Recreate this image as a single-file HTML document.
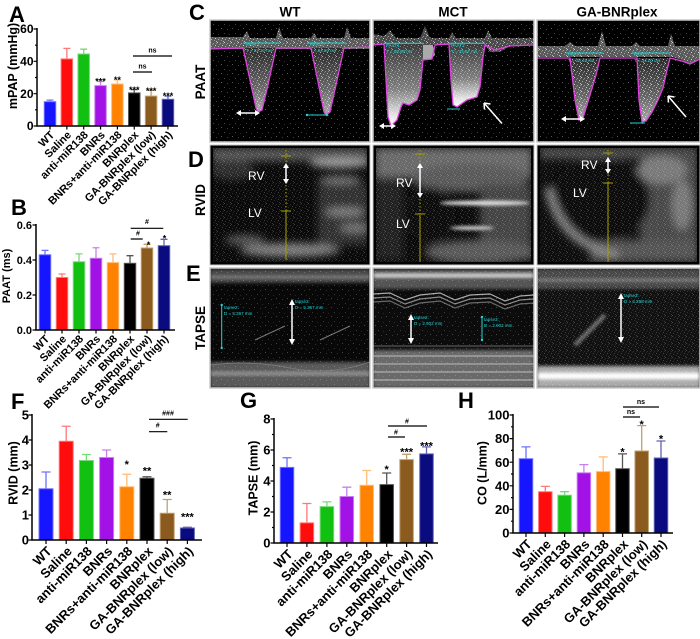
<!DOCTYPE html>
<html><head><meta charset="utf-8">
<style>
html,body{margin:0;padding:0;background:#fff;width:700px;height:639px;overflow:hidden}
svg{display:block}
text{font-family:"Liberation Sans",Arial,sans-serif;font-weight:bold;fill:#000}
.ax{stroke:#000;stroke-width:1.5;fill:none}
.tk{stroke:#000;stroke-width:1.2;fill:none}
.b0{fill:#1515ff;stroke:#7070ff}
.b1{fill:#ff0d0d;stroke:#ff7878}
.b2{fill:#12c012;stroke:#78d878}
.b3{fill:#a212e6;stroke:#c880f0}
.b4{fill:#ff8200;stroke:#ffbb78}
.b5{fill:#000;stroke:#555}
.b6{fill:#8a5a1f;stroke:#c0a070}
.b7{fill:#0b0b80;stroke:#6262b2}
.eb{fill:none;stroke-width:1.3}
.e0{stroke:#7070ff}.e1{stroke:#ff7878}.e2{stroke:#78d878}.e3{stroke:#c880f0}
.e4{stroke:#ffbb78}.e5{stroke:#555}.e6{stroke:#c0a070}.e7{stroke:#6262b2}
.sg{stroke:#000;stroke-width:1.2}
.cy{stroke:#22d4d4;stroke-width:1;fill:none}
.ct{fill:#22d4d4;font-size:4.5px;font-weight:normal}
.mg{stroke:#e040e0;stroke-width:1.3;fill:none}
.wl{stroke:#fff;stroke-width:1.5;fill:none}
.us{fill:#fff;font-weight:normal;font-size:12px}
.yl{stroke:#a89c00;stroke-width:1;fill:none}
</style></head>
<body>
<svg width="700" height="639" viewBox="0 0 700 639" xmlns="http://www.w3.org/2000/svg">
<defs>
<pattern id="sp" width="7" height="7" patternUnits="userSpaceOnUse">
<rect x="0" y="0" width="1" height="1" fill="#fff"/>
<rect x="3" y="1" width="1" height="1" fill="#fff" opacity=".6"/>
<rect x="5" y="3" width="1" height="1" fill="#fff"/>
<rect x="1" y="4" width="1" height="1" fill="#fff" opacity=".7"/>
<rect x="4" y="5" width="1" height="1" fill="#fff" opacity=".5"/>
<rect x="6" y="6" width="1" height="1" fill="#fff" opacity=".8"/>
<rect x="2" y="2" width="1" height="1" fill="#fff" opacity=".4"/>
<rect x="6" y="1" width="1" height="1" fill="#fff" opacity=".5"/>
</pattern>
<pattern id="sq" width="11" height="9" patternUnits="userSpaceOnUse">
<rect x="1" y="1" width="1" height="1" fill="#fff"/>
<rect x="7" y="2" width="1" height="1" fill="#fff" opacity=".7"/>
<rect x="4" y="6" width="1" height="1" fill="#fff" opacity=".8"/>
<rect x="9" y="7" width="1" height="1" fill="#fff" opacity=".5"/>
</pattern>
<filter id="bl4" x="-30%" y="-30%" width="160%" height="160%"><feGaussianBlur stdDeviation="4"/></filter>
<filter id="bl2" x="-30%" y="-30%" width="160%" height="160%"><feGaussianBlur stdDeviation="1.6"/></filter>
<linearGradient id="gv" x1="0" y1="0" x2="0" y2="1">
 <stop offset="0" stop-color="#3a3a3a"/><stop offset="0.55" stop-color="#808080"/><stop offset="0.85" stop-color="#e0e0e0"/><stop offset="1" stop-color="#fff"/>
</linearGradient>
<linearGradient id="gw" x1="0" y1="0" x2="0" y2="1">
 <stop offset="0" stop-color="#2a2a2a"/><stop offset="0.6" stop-color="#666"/><stop offset="1" stop-color="#aaa"/>
</linearGradient>
<clipPath id="k1"><rect x="210" y="20" width="160" height="122"/></clipPath>
<clipPath id="k2"><rect x="373" y="20" width="161" height="122"/></clipPath>
<clipPath id="k3"><rect x="537" y="20" width="163" height="122"/></clipPath>
<clipPath id="k4"><rect x="210" y="145" width="160" height="120"/></clipPath>
<clipPath id="k5"><rect x="373" y="145" width="161" height="120"/></clipPath>
<clipPath id="k6"><rect x="537" y="145" width="163" height="120"/></clipPath>
<clipPath id="k7"><rect x="210" y="268" width="160" height="120"/></clipPath>
<clipPath id="k8"><rect x="373" y="268" width="161" height="120"/></clipPath>
<clipPath id="k9"><rect x="537" y="268" width="163" height="120"/></clipPath>
</defs>

<!-- ================= PANEL A ================= -->
<text x="9" y="22" font-size="22">A</text>
<text transform="translate(17,66) rotate(-90)" text-anchor="middle" font-size="12.5">mPAP (mmHg)</text>
<g font-size="12" text-anchor="end">
<text x="33.5" y="130.2">0</text><text x="33.5" y="97.9">20</text><text x="33.5" y="65.5">40</text><text x="33.5" y="33.2">60</text>
</g>
<path class="tk" d="M33.5,126H37M33.5,93.7H37M33.5,61.3H37M33.5,29H37M35,109.8H37M35,77.5H37M35,45.2H37"/>
<g class="eb">
<path class="e0" d="M50,101.7V100.1M46.5,100.1H53.5"/>
<path class="e1" d="M66.85,58.9V48.4M63.35,48.4H70.35"/>
<path class="e2" d="M83.7,54V49.2M80.2,49.2H87.2"/>
<path class="e3" d="M100.55,85.6V81.5M97.05,81.5H104.05"/>
<path class="e4" d="M117.4,84V79.9M113.9,79.9H120.9"/>
<path class="e5" d="M134.25,92.9V89.6M130.75,89.6H137.75"/>
<path class="e6" d="M151.1,96.1V90.4M147.6,90.4H154.6"/>
<path class="e7" d="M167.95,99.3V96.1M164.45,96.1H171.45"/>
</g>
<rect class="b0" x="44.25" y="101.7" width="11.5" height="24.3"/>
<rect class="b1" x="61.1" y="58.9" width="11.5" height="67.1"/>
<rect class="b2" x="77.95" y="54" width="11.5" height="72"/>
<rect class="b3" x="94.8" y="85.6" width="11.5" height="40.4"/>
<rect class="b4" x="111.65" y="84" width="11.5" height="42"/>
<rect class="b5" x="128.5" y="92.9" width="11.5" height="33.1"/>
<rect class="b6" x="145.35" y="96.1" width="11.5" height="29.9"/>
<rect class="b7" x="162.2" y="99.3" width="11.5" height="26.7"/>
<path class="ax" d="M37,28V126H178"/>
<path class="tk" d="M50,126V129.5M66.85,126V129.5M83.7,126V129.5M100.55,126V129.5M117.4,126V129.5M134.25,126V129.5M151.1,126V129.5M167.95,126V129.5"/>
<g font-size="9" text-anchor="middle">
<text x="100.55" y="84.5">***</text><text x="117.4" y="82.9">**</text><text x="134.25" y="93">***</text><text x="151.1" y="93.8">***</text><text x="167.95" y="99">***</text>
</g>
<path class="sg" d="M133,56H172M133,72H152"/>
<g font-size="7" text-anchor="middle" font-weight="normal"><text x="152.5" y="52.5">ns</text><text x="142.5" y="68.5">ns</text></g>
<g font-size="11" text-anchor="end">
<text transform="translate(55,135.5) rotate(-45)">WT</text>
<text transform="translate(71.85,135.5) rotate(-45)">Saline</text>
<text transform="translate(88.7,135.5) rotate(-45)">anti-miR138</text>
<text transform="translate(105.55,135.5) rotate(-45)">BNRs</text>
<text transform="translate(122.4,135.5) rotate(-45)">BNRs+anti-miR138</text>
<text transform="translate(139.25,135.5) rotate(-45)">BNRplex</text>
<text transform="translate(156.1,135.5) rotate(-45)">GA-BNRplex (low)</text>
<text transform="translate(172.95,135.5) rotate(-45)">GA-BNRplex (high)</text>
</g>

<!-- ================= PANEL B ================= -->
<text x="11" y="215" font-size="22">B</text>
<text transform="translate(10,276) rotate(-90)" text-anchor="middle" font-size="11">PAAT (ms)</text>
<g font-size="11" text-anchor="end">
<text x="32" y="333.9">0.0</text><text x="32" y="298.9">0.2</text><text x="32" y="263.9">0.4</text><text x="32" y="228.9">0.6</text>
</g>
<path class="tk" d="M32.5,330H36M32.5,295H36M32.5,260H36M32.5,225H36"/>
<g class="eb">
<path class="e0" d="M45,254.75V250.4M41.5,250.4H48.5"/>
<path class="e1" d="M62,277.5V274M58.5,274H65.5"/>
<path class="e2" d="M79,261.75V253.9M75.5,253.9H82.5"/>
<path class="e3" d="M96,258.25V247.75M92.5,247.75H99.5"/>
<path class="e4" d="M113,262.6V253.9M109.5,253.9H116.5"/>
<path class="e5" d="M130,263.3V255.7M126.5,255.7H133.5"/>
<path class="e6" d="M147,248V244.3M143.5,244.3H150.5"/>
<path class="e7" d="M164,245.7V239.3M160.5,239.3H167.5"/>
</g>
<rect class="b0" x="39.25" y="254.75" width="11.5" height="75.25"/>
<rect class="b1" x="56.25" y="277.5" width="11.5" height="52.5"/>
<rect class="b2" x="73.25" y="261.75" width="11.5" height="68.25"/>
<rect class="b3" x="90.25" y="258.25" width="11.5" height="71.75"/>
<rect class="b4" x="107.25" y="262.6" width="11.5" height="67.4"/>
<rect class="b5" x="124.25" y="263.3" width="11.5" height="66.7"/>
<rect class="b6" x="141.25" y="248" width="11.5" height="82"/>
<rect class="b7" x="158.25" y="245.7" width="11.5" height="84.3"/>
<path class="ax" d="M36,224V330H175"/>
<path class="tk" d="M45,330V333.5M62,330V333.5M79,330V333.5M96,330V333.5M113,330V333.5M130,330V333.5M147,330V333.5M164,330V333.5"/>
<g font-size="9" text-anchor="middle"><text x="148.5" y="248">*</text><text x="164.5" y="241.5">*</text></g>
<path class="sg" d="M130.7,228.3H163.3M130.7,239H142.7"/>
<g font-size="7" text-anchor="middle" font-weight="normal"><text x="147" y="224">#</text><text x="138" y="235.5">#</text></g>
<g font-size="11" text-anchor="end">
<text transform="translate(50,339.5) rotate(-45)">WT</text>
<text transform="translate(67,339.5) rotate(-45)">Saline</text>
<text transform="translate(84,339.5) rotate(-45)">anti-miR138</text>
<text transform="translate(101,339.5) rotate(-45)">BNRs</text>
<text transform="translate(118,339.5) rotate(-45)">BNRs+anti-miR138</text>
<text transform="translate(135,339.5) rotate(-45)">BNRplex</text>
<text transform="translate(152,339.5) rotate(-45)">GA-BNRplex (low)</text>
<text transform="translate(169,339.5) rotate(-45)">GA-BNRplex (high)</text>
</g>

<!-- ================= C/D/E labels ================= -->
<g font-size="22"><text x="189" y="20">C</text><text x="188" y="167">D</text><text x="186" y="281">E</text></g>
<g font-size="13.5" text-anchor="middle">
<text transform="translate(205,82) rotate(-90)">PAAT</text>
<text transform="translate(205,200) rotate(-90)">RVID</text>
<text transform="translate(205,328) rotate(-90)">TAPSE</text>
<text x="290" y="16.5">WT</text><text x="453" y="16.5">MCT</text><text x="617" y="16.5">GA-BNRplex</text>
</g>

<!-- ===== C WT ===== -->
<g clip-path="url(#k1)">
<rect x="210" y="20" width="160" height="122" fill="#000"/>
<rect x="210" y="20" width="160" height="122" fill="url(#sq)" opacity=".35"/>
<path d="M210,37H243L247,31L250,38H276L279,27L283,38H311L314,33L317,38H344L347,27L351,38H370V49H210Z" fill="#5a5a5a"/>
<path d="M210,37H243L247,31L250,38H276L279,27L283,38H311L314,33L317,38H344L347,27L351,38H370V49H210Z" fill="url(#sp)" opacity=".7"/>
<path d="M243,48L250,80L256,108L258,112L262,110L268,85L276,48Z" fill="url(#gw)"/>
<path d="M243,48L250,80L256,108L258,112L262,110L268,85L276,48Z" fill="url(#sp)" opacity=".6"/>
<path d="M311,48L318,82L324,112L326,115L330,112L336,85L344,48Z" fill="url(#gw)"/>
<path d="M311,48L318,82L324,112L326,115L330,112L336,85L344,48Z" fill="url(#sp)" opacity=".6"/>
<path class="mg" d="M210,49L243,48L250,80L256,108L258,112L262,110L268,85L276,48L311,48L318,82L324,112L326,115L330,112L336,85L344,48L370,47"/>
<path class="cy" d="M243,43H279M307,43H346M307,115H327"/>
<text class="ct" x="246" y="46">PAAT1</text><text class="ct" x="246" y="52">T = 82.22 ms</text>
<text class="ct" x="310" y="46">PAAT2</text><text class="ct" x="310" y="52">T = 84.50 ms</text>
<path class="wl" d="M240,113H256"/><path d="M236,113l5,-3v6zM260,113l-5,-3v6z" fill="#fff"/>
<circle cx="307" cy="115" r="1.2" fill="#22d4d4"/><circle cx="327" cy="115" r="1.2" fill="#22d4d4"/>
</g>
<rect x="210" y="20" width="160" height="122" fill="none" stroke="#c8c8c8" stroke-width="1.5"/>

<!-- ===== C MCT ===== -->
<g clip-path="url(#k2)">
<rect x="373" y="20" width="161" height="122" fill="#000"/>
<rect x="373" y="20" width="161" height="122" fill="url(#sq)" opacity=".35"/>
<path d="M373,34L384,36L390,30L396,38L420,38L425,26L430,38L449,38L452,32L456,38L485,38L488,30L492,38L534,38V45L510,46L500,52L490,52L485,45H373Z" fill="#4a4a4a"/>
<path d="M373,34L384,36L390,30L396,38L420,38L425,26L430,38L449,38L452,32L456,38L485,38L488,30L492,38L534,38V45L510,46L500,52L490,52L485,45H373Z" fill="url(#sp)" opacity=".7"/>
<path d="M423,45L433,45L435,55L430,60L423,60Z" fill="#aaa"/>
<path d="M384,44L386,80L388,117L391,126L397,120L401,107L403,103L409,105L417,100L420,90L423,60L423,44Z" fill="url(#gv)"/>
<path d="M384,44L386,80L388,117L391,126L397,120L401,107L403,103L409,105L417,100L420,90L423,60L423,44Z" fill="url(#sp)" opacity=".5"/>
<path d="M449,44L451,80L453,105L457,107L467,100L477,97L480,87L483,57L485,44Z" fill="url(#gv)"/>
<path d="M449,44L451,80L453,105L457,107L467,100L477,97L480,87L483,57L485,44Z" fill="url(#sp)" opacity=".5"/>
<path class="mg" d="M373,45L384,44L386,80L388,117L391,126L397,120L401,107L403,103L409,105L417,100L420,90L423,60L432,59L435,45L449,44L451,80L453,105L457,107L467,100L477,97L480,87L483,57L485,45L495,50L510,46L534,45"/>
<path class="cy" d="M384,43.3H423M449,43.3H485M447,109H460"/>
<text class="ct" x="386" y="47">PAAT1</text><text class="ct" x="386" y="53">T = 29.09 ms</text>
<text class="ct" x="451" y="47">PAAT2</text><text class="ct" x="451" y="53">T = 34.67 ms</text>
<path class="wl" d="M383,126H392"/><path d="M379,126l5,-3v6zM396,126l-5,-3v6z" fill="#fff"/>
<path class="wl" d="M502,123.5L484,103M484,103l0.5,6.5M484,103l6.5,1"/>
</g>
<rect x="373" y="20" width="161" height="122" fill="none" stroke="#c8c8c8" stroke-width="1.5"/>

<!-- ===== C GA ===== -->
<g clip-path="url(#k3)">
<rect x="537" y="20" width="163" height="122" fill="#000"/>
<rect x="537" y="20" width="163" height="122" fill="url(#sq)" opacity=".35"/>
<path d="M537,46H565L570,42L575,46H598L602,31L606,46H632L636,42L640,46H668L671,34L675,46H700V58L690,64L682,60L672,57H537Z" fill="#5a5a5a"/>
<path d="M537,46H565L570,42L575,46H598L602,31L606,46H632L636,42L640,46H668L671,34L675,46H700V58L690,64L682,60L672,57H537Z" fill="url(#sp)" opacity=".7"/>
<path d="M570,58L575,100L579,120L583,118L590,95L596,75L600,58Z" fill="url(#gw)"/>
<path d="M570,58L575,100L579,120L583,118L590,95L596,75L600,58Z" fill="url(#sp)" opacity=".7"/>
<path d="M637,58L639,100L642,122L646,121L652,112L658,100L663,88L667,70L670,58Z" fill="url(#gw)"/>
<path d="M637,58L639,100L642,122L646,121L652,112L658,100L663,88L667,70L670,58Z" fill="url(#sp)" opacity=".7"/>
<path class="mg" d="M537,58L570,58L575,100L579,120L583,118L590,95L596,75L600,58L637,58L639,100L642,122L646,121L652,112L658,100L663,88L667,70L670,58L682,61L690,64L700,59"/>
<path class="cy" d="M566,53H603M632,53H670M630,123H645"/>
<text class="ct" x="568" y="56">PAAT1</text><text class="ct" x="568" y="62">T = 29.48 ms</text>
<text class="ct" x="634" y="56">PAAT2</text><text class="ct" x="634" y="62">T = 34.00 ms</text>
<path class="wl" d="M565,119H581"/><path d="M561,119l5,-3v6zM585,119l-5,-3v6z" fill="#fff"/>
<path class="wl" d="M686,117L668,96M668,96l0.5,6.5M668,96l6.5,1"/>
</g>
<rect x="537" y="20" width="163" height="122" fill="none" stroke="#c8c8c8" stroke-width="1.5"/>

<!-- ===== D WT ===== -->
<g clip-path="url(#k4)">
<rect x="210" y="145" width="160" height="120" fill="#0a0a0a"/>
<g filter="url(#bl4)">
<rect x="212" y="148" width="156" height="13" fill="#555"/>
<ellipse cx="340" cy="163" rx="30" ry="5" fill="#999"/>
<ellipse cx="232" cy="170" rx="22" ry="10" fill="#2e2e2e"/>
<ellipse cx="340" cy="180" rx="22" ry="4" fill="#777"/>
<rect x="318" y="185" width="50" height="60" fill="#333"/>
<ellipse cx="345" cy="212" rx="20" ry="4" fill="#808080"/>
<ellipse cx="355" cy="228" rx="15" ry="4" fill="#777"/>
<ellipse cx="290" cy="250" rx="50" ry="7" fill="#7a7a7a"/>
<ellipse cx="245" cy="240" rx="20" ry="5" fill="#555"/>
</g>
<rect x="210" y="145" width="160" height="120" fill="url(#sp)" opacity=".22"/>
<path class="yl" d="M286,150V211" stroke-dasharray="1.5,2"/><path class="yl" d="M286,211V260M281,156H291M281,211H291"/>
<path class="wl" d="M286,167V180"/><path d="M286,163l-3,5h6zM286,184l-3,-5h6z" fill="#fff"/>
<text class="us" x="248" y="180" font-size="11">RV</text><text class="us" x="248" y="217" font-size="11">LV</text>
</g>
<rect x="211.5" y="146.5" width="157" height="117" fill="none" stroke="#000" stroke-width="3"/>
<rect x="210" y="145" width="160" height="120" fill="none" stroke="#c8c8c8" stroke-width="1"/>

<!-- ===== D MCT ===== -->
<g clip-path="url(#k5)">
<rect x="373" y="145" width="161" height="120" fill="#0c0c0c"/>
<g filter="url(#bl4)">
<rect x="375" y="148" width="157" height="30" fill="#6a6a6a"/>
<ellipse cx="470" cy="178" rx="60" ry="14" fill="#5a5a5a"/>
<rect x="375" y="180" width="28" height="80" fill="#222"/>
<rect x="480" y="185" width="52" height="75" fill="#444"/>
<ellipse cx="480" cy="252" rx="55" ry="12" fill="#5a5a5a"/>
<ellipse cx="430" cy="215" rx="25" ry="28" fill="#0a0a0a"/>
</g>
<g filter="url(#bl2)">
<ellipse cx="485" cy="203" rx="45" ry="2.5" fill="#e0e0e0"/>
<ellipse cx="472" cy="228" rx="22" ry="2" fill="#d0d0d0"/>
</g>
<rect x="373" y="145" width="161" height="120" fill="url(#sp)" opacity=".22"/>
<path class="yl" d="M420,150V215" stroke-dasharray="1.5,2"/><path class="yl" d="M420,215V262M415,154H425M415,214H425"/>
<path class="wl" d="M420,167V194"/><path d="M420,163l-3,5h6zM420,198l-3,-5h6z" fill="#fff"/>
<text class="us" x="396" y="187">RV</text><text class="us" x="396" y="228">LV</text>
</g>
<rect x="374.5" y="146.5" width="158" height="117" fill="none" stroke="#000" stroke-width="3"/>
<rect x="373" y="145" width="161" height="120" fill="none" stroke="#c8c8c8" stroke-width="1"/>

<!-- ===== D GA ===== -->
<g clip-path="url(#k6)">
<rect x="537" y="145" width="163" height="120" fill="#0e0e0e"/>
<g filter="url(#bl4)">
<rect x="540" y="147" width="157" height="12" fill="#4a4a4a"/>
<rect x="640" y="155" width="58" height="105" fill="#4a4a4a"/>
<ellipse cx="662" cy="170" rx="25" ry="14" fill="#7a7a7a"/>
<rect x="590" y="240" width="108" height="22" fill="#555"/>
<ellipse cx="600" cy="200" rx="50" ry="42" fill="#0a0a0a"/>
<ellipse cx="682" cy="205" rx="10" ry="25" fill="#7a7a7a"/>
<path d="M548,188Q560,245 618,255" stroke="#8a8a8a" stroke-width="7" fill="none"/>
</g>
<rect x="537" y="145" width="163" height="120" fill="url(#sp)" opacity=".22"/>
<path class="yl" d="M608,150V183" stroke-dasharray="1.5,2"/><path class="yl" d="M608,183V262M603,153H613M603,183H613"/>
<path class="wl" d="M608,161V170"/><path d="M608,157l-3,5h6zM608,174l-3,-5h6z" fill="#fff"/>
<text class="us" x="581" y="169">RV</text><text class="us" x="573" y="197">LV</text>
</g>
<rect x="538.5" y="146.5" width="160" height="117" fill="none" stroke="#000" stroke-width="3"/>
<rect x="537" y="145" width="163" height="120" fill="none" stroke="#c8c8c8" stroke-width="1"/>

<!-- ===== E WT ===== -->
<g clip-path="url(#k7)">
<rect x="210" y="268" width="160" height="120" fill="#080808"/>
<g filter="url(#bl2)">
<rect x="210" y="269" width="160" height="14" fill="#4a4a4a"/>
<rect x="210" y="276" width="160" height="2" fill="#888"/>
<rect x="210" y="362" width="160" height="26" fill="#5a5a5a"/>
<rect x="210" y="372" width="160" height="3" fill="#999"/>
</g>
<path d="M255,340L285,326M320,340L350,326M210,365Q250,360 290,368T370,362" stroke="#777" stroke-width="1" fill="none"/>
<rect x="210" y="268" width="160" height="120" fill="url(#sq)" opacity=".25"/>
<path class="cy" d="M221.7,305V348M292,300V344"/>
<circle cx="221.7" cy="305" r="1.2" fill="#22d4d4"/><circle cx="221.7" cy="348" r="1.2" fill="#22d4d4"/>
<path class="wl" d="M292,304V340"/><path d="M292,299l-3,6h6zM292,345l-3,-6h6z" fill="#fff"/>
<text class="ct" x="224" y="309">tapse2:</text><text class="ct" x="224" y="315">D = 5.367 mm</text>
<text class="ct" x="295" y="303">tapse3:</text><text class="ct" x="295" y="309">D = 5.367 mm</text>
</g>
<rect x="210" y="268" width="160" height="120" fill="none" stroke="#c8c8c8" stroke-width="1.5"/>

<!-- ===== E MCT ===== -->
<g clip-path="url(#k8)">
<rect x="373" y="268" width="161" height="120" fill="#0c0c0c"/>
<g filter="url(#bl2)">
<rect x="373" y="269" width="161" height="20" fill="#555"/>
<rect x="373" y="274" width="161" height="3" fill="#e0e0e0"/>
<rect x="373" y="350" width="161" height="38" fill="#6a6a6a"/>
</g>
<g fill="none" stroke="#aaa" stroke-width="1.2">
<polyline points="373,294 390,293 405,300 420,295 440,293 455,300 470,295 490,294 505,301 520,296 534,295"/>
<polyline points="373,298 390,297 405,304 420,299 440,297 455,304 470,299 490,298 505,305 520,300 534,299" stroke-opacity=".8"/>
<polyline points="373,302 390,301 405,308 420,303 440,301 455,308 470,303 490,302 505,309 520,304 534,303" stroke-opacity=".6"/>
<path d="M373,356H534M373,364H534M373,372H534M373,380H534" stroke="#ccc" stroke-opacity=".7"/>
<path d="M373,346H534" stroke="#555"/>
</g>
<rect x="373" y="268" width="161" height="120" fill="url(#sq)" opacity=".25"/>
<path class="wl" d="M411,319V339"/><path d="M411,314l-3,6h6zM411,344l-3,-6h6z" fill="#fff"/>
<path class="cy" d="M482,317V340"/><circle cx="482" cy="317" r="1.2" fill="#22d4d4"/><circle cx="482" cy="340" r="1.2" fill="#22d4d4"/>
<text class="ct" x="414" y="319">tapse2:</text><text class="ct" x="414" y="325">D = 2.902 mm</text>
<text class="ct" x="484" y="321">tapse3:</text><text class="ct" x="484" y="327">D = 2.902 mm</text>
</g>
<rect x="373" y="268" width="161" height="120" fill="none" stroke="#c8c8c8" stroke-width="1.5"/>

<!-- ===== E GA ===== -->
<g clip-path="url(#k9)">
<rect x="537" y="268" width="163" height="120" fill="#111"/>
<g filter="url(#bl2)">
<rect x="537" y="269" width="163" height="20" fill="#4a4a4a"/>
<rect x="537" y="279" width="163" height="2" fill="#888"/>
<path d="M575,345L605,315" stroke="#777" stroke-width="4"/>
<rect x="537" y="366" width="163" height="22" fill="#aaa"/>
<rect x="537" y="373" width="163" height="6" fill="#fff"/>
</g>
<rect x="537" y="268" width="163" height="120" fill="url(#sp)" opacity=".22"/>
<path class="wl" d="M621,298V338"/><path d="M621,293l-3,6h6zM621,343l-3,-6h6z" fill="#fff"/>
<text class="ct" x="624" y="297">tapse3:</text><text class="ct" x="624" y="303">D = 6.298 mm</text>
</g>
<rect x="537" y="268" width="163" height="120" fill="none" stroke="#c8c8c8" stroke-width="1.5"/>

<!-- ================= PANEL F ================= -->
<text x="11" y="409" font-size="22">F</text>
<text transform="translate(17.5,473) rotate(-90)" text-anchor="middle" font-size="12.5">RVID (mm)</text>
<g font-size="13" text-anchor="end">
<text x="29" y="544.6">0</text><text x="29" y="519.6">1</text><text x="29" y="494.6">2</text><text x="29" y="469.6">3</text><text x="29" y="444.6">4</text><text x="29" y="419.6">5</text>
</g>
<path class="tk" d="M28.5,540H32M28.5,515H32M28.5,490H32M28.5,465H32M28.5,440H32M28.5,415H32"/>
<g class="eb">
<path class="e0" d="M46,488.75V472M41.5,472H50.5"/>
<path class="e1" d="M66.2,441.25V426.25M61.7,426.25H70.7"/>
<path class="e2" d="M86.4,460.5V454.5M81.9,454.5H90.9"/>
<path class="e3" d="M106.6,457.5V450M102.1,450H111.1"/>
<path class="e4" d="M126.8,486.75V474.25M122.3,474.25H131.3"/>
<path class="e5" d="M147,478.25V476.75M142.5,476.75H151.5"/>
<path class="e6" d="M167.2,513.25V499.5M162.7,499.5H171.7"/>
<path class="e7" d="M187.4,528V527.3M182.9,527.3H191.9"/>
</g>
<rect class="b0" x="39" y="488.75" width="14" height="51.25"/>
<rect class="b1" x="59.2" y="441.25" width="14" height="98.75"/>
<rect class="b2" x="79.4" y="460.5" width="14" height="79.5"/>
<rect class="b3" x="99.6" y="457.5" width="14" height="82.5"/>
<rect class="b4" x="119.8" y="486.75" width="14" height="53.25"/>
<rect class="b5" x="140" y="478.25" width="14" height="61.75"/>
<rect class="b6" x="160.2" y="513.25" width="14" height="26.75"/>
<rect class="b7" x="180.4" y="528" width="14" height="12"/>
<path class="ax" d="M32,414V540H202"/>
<path class="tk" d="M46,540V544M66.2,540V544M86.4,540V544M106.6,540V544M126.8,540V544M147,540V544M167.2,540V544M187.4,540V544"/>
<g font-size="11" text-anchor="middle">
<text x="126.8" y="468">*</text><text x="147" y="474.3">**</text><text x="167.2" y="498.3">**</text><text x="187.4" y="520.3">***</text>
</g>
<path class="sg" d="M149,419.3H187.7M149,431.7H167.3"/>
<g font-size="7" text-anchor="middle" font-weight="normal"><text x="168" y="415.5">###</text><text x="157.7" y="427.5">#</text></g>
<g font-size="13" text-anchor="end">
<text transform="translate(52.5,552) rotate(-45)">WT</text>
<text transform="translate(72.7,552) rotate(-45)">Saline</text>
<text transform="translate(92.9,552) rotate(-45)">anti-miR138</text>
<text transform="translate(113.1,552) rotate(-45)">BNRs</text>
<text transform="translate(133.3,552) rotate(-45)">BNRs+anti-miR138</text>
<text transform="translate(153.5,552) rotate(-45)">BNRplex</text>
<text transform="translate(173.7,552) rotate(-45)">GA-BNRplex (low)</text>
<text transform="translate(193.9,552) rotate(-45)">GA-BNRplex (high)</text>
</g>

<!-- ================= PANEL G ================= -->
<text x="240" y="408" font-size="22">G</text>
<text transform="translate(257.5,478) rotate(-90)" text-anchor="middle" font-size="12.5">TAPSE (mm)</text>
<g font-size="13" text-anchor="end">
<text x="270.5" y="547.6">0</text><text x="270.5" y="516.6">2</text><text x="270.5" y="485.6">4</text><text x="270.5" y="454.6">6</text><text x="270.5" y="423.6">8</text>
</g>
<path class="tk" d="M270.5,543H274M270.5,512H274M270.5,481H274M270.5,450H274M270.5,419H274M272,527.5H274M272,496.5H274M272,465.5H274M272,434.5H274"/>
<g class="eb">
<path class="e0" d="M287,467.4V457.75M282.5,457.75H291.5"/>
<path class="e1" d="M306.9,522.85V503.5M302.4,503.5H311.4"/>
<path class="e2" d="M326.9,506.6V501.9M322.4,501.9H331.4"/>
<path class="e3" d="M346.8,496.5V487.2M342.3,487.2H351.3"/>
<path class="e4" d="M366.7,485.3V470.5M362.2,470.5H371.2"/>
<path class="e5" d="M386.7,484.6V473M382.2,473H391.2"/>
<path class="e6" d="M406.6,459.6V454.3M402.1,454.3H411.1"/>
<path class="e7" d="M426.5,453.9V446.9M422,446.9H431"/>
</g>
<rect class="b0" x="280.25" y="467.4" width="13.5" height="75.6"/>
<rect class="b1" x="300.15" y="522.85" width="13.5" height="20.15"/>
<rect class="b2" x="320.15" y="506.6" width="13.5" height="36.4"/>
<rect class="b3" x="340.05" y="496.5" width="13.5" height="46.5"/>
<rect class="b4" x="359.95" y="485.3" width="13.5" height="57.7"/>
<rect class="b5" x="379.95" y="484.6" width="13.5" height="58.4"/>
<rect class="b6" x="399.85" y="459.6" width="13.5" height="83.4"/>
<rect class="b7" x="419.75" y="453.9" width="13.5" height="89.1"/>
<path class="ax" d="M274,418V543H438"/>
<path class="tk" d="M287,543V547M306.9,543V547M326.9,543V547M346.8,543V547M366.7,543V547M386.7,543V547M406.6,543V547M426.5,543V547"/>
<g font-size="11" text-anchor="middle">
<text x="386.7" y="473">*</text><text x="406.6" y="455.3">***</text><text x="426.5" y="449.3">***</text>
</g>
<path class="sg" d="M388,426H427M388,437H405"/>
<g font-size="7" text-anchor="middle" font-weight="normal"><text x="407" y="423.5">#</text><text x="396" y="434.5">#</text></g>
<g font-size="13" text-anchor="end">
<text transform="translate(293.5,555) rotate(-45)">WT</text>
<text transform="translate(313.4,555) rotate(-45)">Saline</text>
<text transform="translate(333.4,555) rotate(-45)">anti-miR138</text>
<text transform="translate(353.3,555) rotate(-45)">BNRs</text>
<text transform="translate(373.2,555) rotate(-45)">BNRs+anti-miR138</text>
<text transform="translate(393.2,555) rotate(-45)">BNRplex</text>
<text transform="translate(413.1,555) rotate(-45)">GA-BNRplex (low)</text>
<text transform="translate(433,555) rotate(-45)">GA-BNRplex (high)</text>
</g>

<!-- ================= PANEL H ================= -->
<text x="458" y="408" font-size="22">H</text>
<text transform="translate(486.5,473) rotate(-90)" text-anchor="middle" font-size="12.5">CO (L/mm)</text>
<g font-size="13" text-anchor="end">
<text x="509.5" y="537.6">0</text><text x="509.5" y="514">20</text><text x="509.5" y="490.4">40</text><text x="509.5" y="466.8">60</text><text x="509.5" y="443.2">80</text><text x="509.5" y="419.6">100</text>
</g>
<path class="tk" d="M509.5,533H513M509.5,509.4H513M509.5,485.8H513M509.5,462.2H513M509.5,438.6H513M509.5,415H513M511,521.2H513M511,497.6H513M511,474H513M511,450.4H513M511,426.8H513"/>
<g class="eb">
<path class="e0" d="M526,458.7V446.9M521.5,446.9H530.5"/>
<path class="e1" d="M545.3,491.7V486.4M540.8,486.4H549.8"/>
<path class="e2" d="M564.6,495.2V491.7M560.1,491.7H569.1"/>
<path class="e3" d="M583.9,472.8V464.6M579.4,464.6H588.4"/>
<path class="e4" d="M603.2,471.6V456.9M598.7,456.9H607.7"/>
<path class="e5" d="M622.5,468.7V453.9M618,453.9H627"/>
<path class="e6" d="M641.7,451V425.6M637.2,425.6H646.2"/>
<path class="e7" d="M661,458V441M656.5,441H665.5"/>
</g>
<rect class="b0" x="519.25" y="458.7" width="13.5" height="74.3"/>
<rect class="b1" x="538.55" y="491.7" width="13.5" height="41.3"/>
<rect class="b2" x="557.85" y="495.2" width="13.5" height="37.8"/>
<rect class="b3" x="577.15" y="472.8" width="13.5" height="60.2"/>
<rect class="b4" x="596.45" y="471.6" width="13.5" height="61.4"/>
<rect class="b5" x="615.75" y="468.7" width="13.5" height="64.3"/>
<rect class="b6" x="634.95" y="451" width="13.5" height="82"/>
<rect class="b7" x="654.25" y="458" width="13.5" height="75"/>
<path class="ax" d="M513,414V533H673"/>
<path class="tk" d="M526,533V537M545.3,533V537M564.6,533V537M583.9,533V537M603.2,533V537M622.5,533V537M641.7,533V537M661,533V537"/>
<g font-size="11" text-anchor="middle">
<text x="622.5" y="455.3">*</text><text x="641.7" y="428">*</text><text x="661" y="442.3">*</text>
</g>
<path class="sg" d="M623,407H659M623,417H640"/>
<g font-size="7" text-anchor="middle" font-weight="normal"><text x="641" y="404">ns</text><text x="631" y="414">ns</text></g>
<g font-size="13" text-anchor="end">
<text transform="translate(532.5,545) rotate(-45)">WT</text>
<text transform="translate(551.8,545) rotate(-45)">Saline</text>
<text transform="translate(571.1,545) rotate(-45)">anti-miR138</text>
<text transform="translate(590.4,545) rotate(-45)">BNRs</text>
<text transform="translate(609.7,545) rotate(-45)">BNRs+anti-miR138</text>
<text transform="translate(629,545) rotate(-45)">BNRplex</text>
<text transform="translate(648.2,545) rotate(-45)">GA-BNRplex (low)</text>
<text transform="translate(667.5,545) rotate(-45)">GA-BNRplex (high)</text>
</g>
</svg>
</body></html>
